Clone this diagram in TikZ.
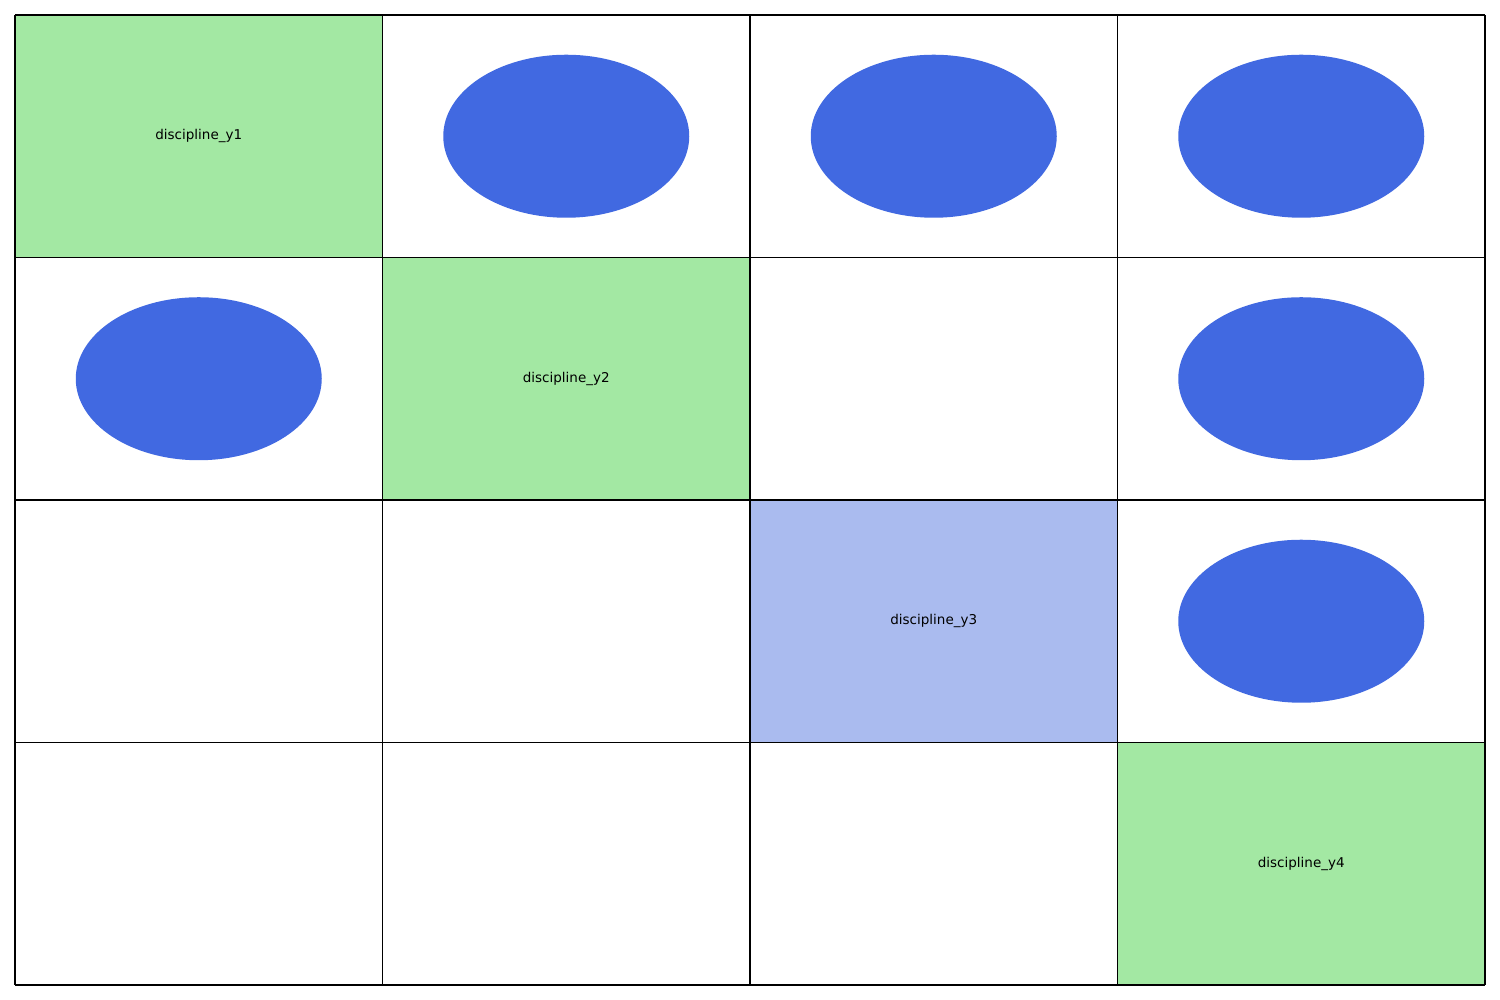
\documentclass[tikz,border=0pt]{standalone}
\usepackage{fontspec}
\setmainfont{DejaVu Sans}
\definecolor{discgreen}{RGB}{163,232,163}
\definecolor{discblue}{RGB}{170,187,239}
\definecolor{coupling}{RGB}{65,105,225}
\tikzset{
    disc/.style={font=\fontsize{13.5}{16}\selectfont, inner sep=0pt},
    link/.style={ellipse, fill=coupling, minimum width=246pt, minimum height=163pt, inner sep=0pt}
}
\usetikzlibrary{shapes.geometric}
\begin{document}
\begin{tikzpicture}[x=1pt,y=1pt]
        \useasboundingbox (0,0) rectangle (1500,1000);
        \fill[white] (0,0) rectangle (1500,1000);
        % diagonal blocks
        \fill[discgreen] (15,985) rectangle (382.5,742.5);
        \fill[discgreen] (382.5,742.5) rectangle (750,500);
        \fill[discblue] (750,500) rectangle (1117.5,257.5);
        \fill[discgreen] (1117.5,257.5) rectangle (1485,15);
        \node[disc] (y1) at (198.75,863.75) {discipline\_y1};
        \node[disc] (y2) at (566.25,621.25) {discipline\_y2};
        \node[disc] (y3) at (933.75,378.75) {discipline\_y3};
        \node[disc] (y4) at (1301.25,136.25) {discipline\_y4};
        % couplings
        \foreach \r/\c [count=\i] in {0/1, 0/2, 0/3, 1/0, 1/3, 2/3}
            \node[link] (c\i) at (198.75+367.5*\c, 863.75-242.5*\r) {};
        % grid
        \foreach \k in {0,...,4} {
            \draw[line width=1.2pt] (15+367.5*\k,15) -- (15+367.5*\k,985);
            \draw[line width=1.2pt] (15,15+242.5*\k) -- (1485,15+242.5*\k);
        }
    \end{tikzpicture}
\end{document}
